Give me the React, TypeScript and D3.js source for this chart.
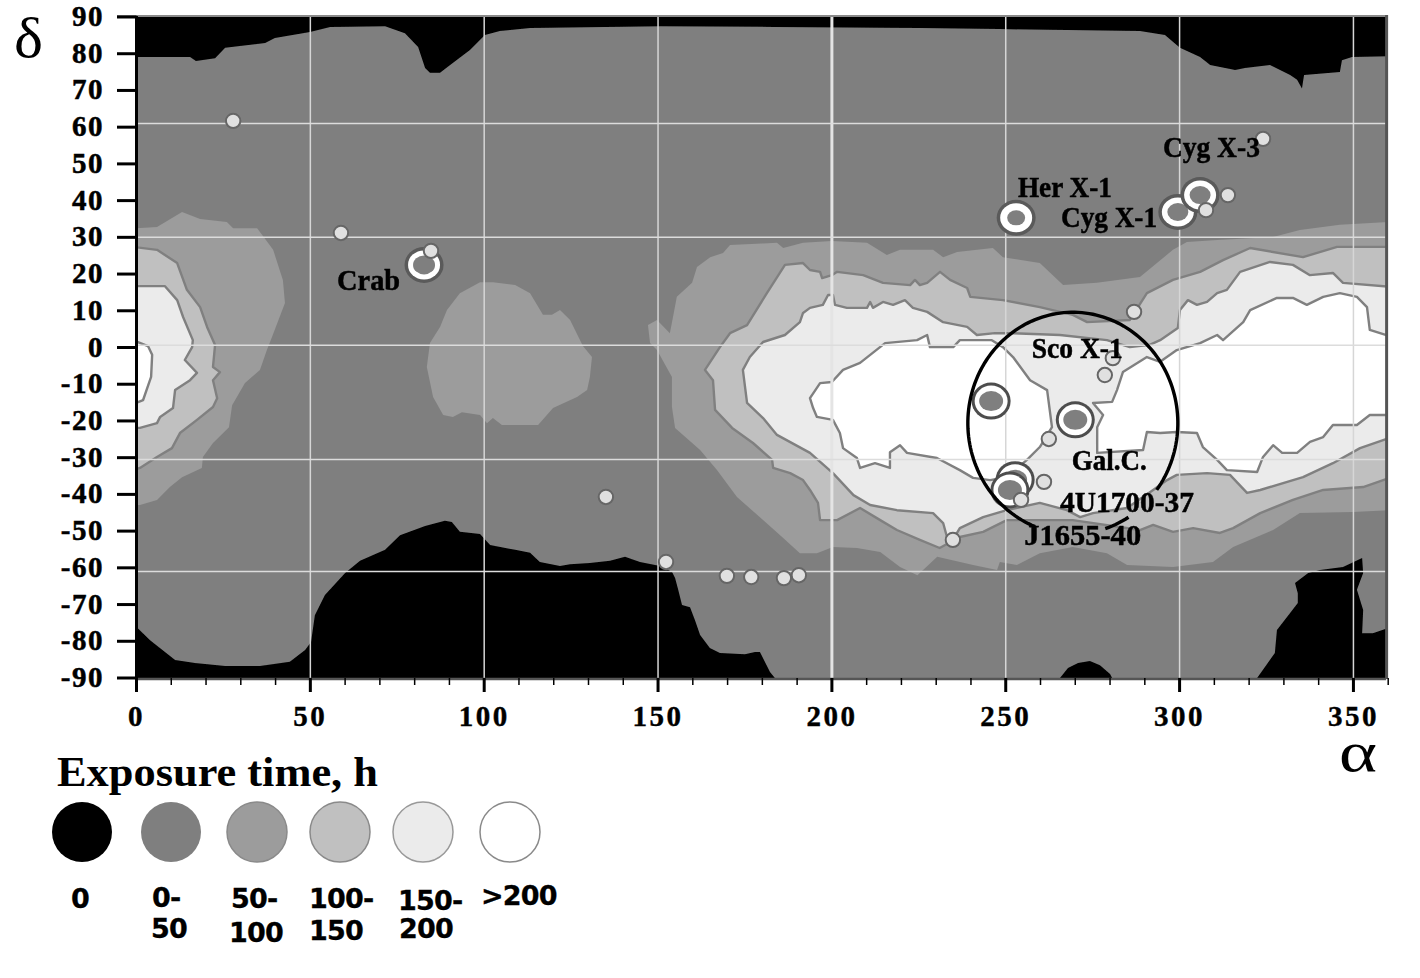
import React from 'react';
import * as d3 from 'd3';

type Pt = [number, number];

// exposure regions, [alpha, delta] in degrees
const blackTop: Pt[] = [[0,90],[0,79.1],[15.4,79.1],[17.1,78],[22.6,78.8],[25.5,81.6],[37,82.9],[39.8,84.3],[49.9,85.9],[55.7,87.3],[71.5,87.5],[77.2,85.6],[81,81.8],[83,76.1],[84.4,74.8],[87.3,74.8],[90.2,76.9],[95.9,81],[100.2,85.1],[104.5,86.2],[113.2,87],[150.6,87.5],[183.6,87.3],[225.3,87],[248.3,86.7],[288.6,86.2],[295.8,85.1],[300.1,81.6],[305.9,79.1],[308.8,76.9],[316,75.6],[318.8,76.1],[326,76.9],[331.8,74.2],[333.8,72.9],[335.2,70.5],[335.8,74.2],[346.1,75],[346.7,78.2],[349.6,79.1],[360,79.3],[360,90]];
const blackBottomLeft: Pt[] = [[0,-90],[0,-76.1],[3.9,-79.7],[11.1,-85.1],[16.8,-85.9],[25.5,-86.7],[35.5,-86.7],[44.1,-85.6],[48.5,-82.4],[50.2,-80.2],[51.3,-72.9],[54.2,-67.4],[60,-61.4],[64.3,-58.1],[71.5,-55.1],[75.8,-51.1],[83,-48.6],[88.7,-47.2],[90.7,-47.5],[93,-50.2],[98.8,-50.8],[101.7,-53.8],[108.9,-55.1],[113.2,-55.9],[116,-58.4],[121.8,-59.5],[124.7,-59],[130.4,-58.7],[136.2,-58.1],[140.5,-57],[144.8,-58.4],[150.6,-59.5],[154,-61.1],[154.9,-62.8],[155.8,-66],[156.9,-70.1],[159.2,-70.7],[160.6,-74.2],[162.1,-78.3],[164.9,-81.8],[167.8,-83.2],[175,-83.5],[177.9,-82.9],[179.3,-82.9],[182.2,-88.4],[183.6,-90]];
const blackBottomMid: Pt[] = [[265.6,-90],[267.9,-87.3],[270.8,-85.9],[274.2,-85.4],[277.1,-86.5],[280,-88.9],[280.6,-90]];
const blackBottomRight: Pt[] = [[322.3,-90],[327.4,-83.2],[328,-76.9],[330.9,-73.4],[334,-69.6],[334,-66.9],[333.2,-64.1],[337,-61.4],[340.4,-60.6],[347,-59.8],[352.5,-57.3],[352.8,-61.4],[351,-66],[352.8,-71.5],[352.5,-77.8],[355.6,-77.8],[360,-76.4],[360,-90]];

const band50Left: Pt[] = [[0,32.5],[5.9,32.8],[13.1,36.9],[18.3,35],[26,34.2],[27.8,32.5],[34.7,32.5],[39.3,26.6],[42.1,18.4],[42.7,12.1],[39,2.9],[37.5,-0.7],[35.5,-6.1],[31.2,-9.7],[27.5,-15.7],[26.6,-21.7],[22,-26],[19.1,-29.8],[18.8,-32.8],[13.1,-35.3],[9.6,-38],[5.9,-41.5],[1,-42.9],[0,-42.9]];
const band50Middle: Pt[] = [[98.8,17.8],[93,14.8],[89.3,10.2],[87.3,5.6],[84.4,1.2],[83.5,-5.3],[85.3,-13.5],[88.2,-18.4],[91,-18.9],[93.6,-17.6],[98.8,-18.4],[100.8,-20.6],[102.5,-19.2],[105.1,-21.1],[115.5,-21.1],[119.8,-16.5],[126.7,-13.5],[129.6,-11.6],[130.4,-8],[131,-2.6],[128.4,0.4],[124.7,7.5],[121.8,10.2],[119.5,8.9],[116.9,8.9],[113.2,14.8],[108.9,17],[102.5,17.8]];
const band50Right: Pt[] = [[147.1,6.1],[149.7,7.5],[153.4,3.9],[154.3,8.3],[155.4,13.8],[159.8,17.6],[161.2,21.9],[165,24.6],[168.7,25.7],[170.7,27.9],[184.2,28.5],[186,27.1],[191.7,28.5],[200,29],[210.1,28.5],[215.8,25.2],[219.6,26.6],[229.1,26.6],[232,24.6],[236,26],[246.3,27.1],[249.2,24.6],[259.8,23],[266.5,17],[276.2,17.6],[288.6,19.2],[298.1,26.6],[302.1,28.7],[310.8,29.3],[326.9,30.1],[334.6,32],[346.1,33.4],[360,34.2],[360,-44.3],[349.9,-44.8],[334.6,-45.1],[326.9,-49.7],[315.4,-54.3],[309.6,-58.4],[298.1,-59.8],[284.9,-59.2],[279.1,-56],[269.3,-54.3],[259.8,-56],[253.2,-59.2],[248.3,-58.4],[247.5,-60.6],[240.6,-59.2],[230.3,-57],[224.6,-62],[219.6,-59.8],[213.9,-55.7],[207.2,-54.6],[200.3,-54.3],[195.7,-56],[190.8,-56],[186,-51.9],[180.2,-47],[172.7,-40.7],[167,-33.4],[162.1,-27.9],[154.9,-21.9],[154,-16.2],[154,-8],[149.7,-0.7],[147.7,1.2]];

const band100Left: Pt[] = [[-1,27.4],[5.9,26.6],[11.7,23],[14.5,15.7],[18.3,11],[20.3,5.6],[22.6,0.7],[22,-5.3],[24,-6.7],[22,-8.9],[23.2,-13.8],[22,-16.2],[17.4,-19.7],[12.5,-23.3],[10.2,-27.4],[5.9,-29.8],[1,-32.8],[-1,-33.4]];
const band100Right: Pt[] = [[167.8,0.1],[170.7,3.9],[175.6,6.1],[181.3,14.8],[186.5,22.5],[191.7,23],[193.7,21.1],[196.6,20.6],[197.2,18.9],[200,19.7],[201.5,20.6],[209,19.7],[214.7,17.6],[222.5,17],[223.9,18.4],[225.3,17],[227.4,17.6],[231.1,20.6],[234,18.4],[238.9,16.2],[239.8,13.8],[249.2,12.9],[259.8,11],[269.3,8.9],[273.4,6.9],[285.7,7.5],[290.6,14.8],[298.1,18.4],[305.9,20.6],[312.5,23.8],[320.3,27.1],[335.5,24.6],[345.3,27.4],[361,27.4],[361,-35.3],[352.8,-38],[341.3,-38.8],[332.6,-41.5],[323.2,-45.1],[315.4,-49.2],[311.6,-50.5],[303.9,-49.2],[298.1,-50.2],[292.4,-48.3],[288.6,-49.7],[269.3,-47],[259.8,-47],[250.3,-47],[243.5,-50.2],[236.8,-51.6],[231,-54.6],[225.3,-52.4],[218.7,-49.7],[213.9,-47],[208.1,-43.7],[201.5,-47],[196.6,-47],[196,-42.3],[193.7,-38.8],[191.7,-36.1],[188,-34.2],[183.1,-32.8],[182.8,-30.6],[177.3,-26],[171.3,-21.9],[166.4,-17],[165.8,-8.9],[163.5,-6.1]];

const band150Left: Pt[] = [[-1,16.7],[8.2,16.7],[11.7,12.9],[13.4,8.3],[16.2,2],[16,0.1],[13.9,-3.4],[17.4,-6.9],[15.4,-8.9],[11.1,-11.6],[10.5,-16.5],[6.8,-18.9],[5.9,-20.6],[1,-21.9],[-1,-21.9]];
const band150Right: Pt[] = [[180.2,1.5],[186.5,3.4],[190.8,6.9],[191.7,9.4],[193.7,10.8],[197.4,11.6],[198.9,14.3],[200.3,14.3],[200.9,11.6],[204.3,10.8],[210.1,10.8],[211,12.4],[211.8,10.8],[214.7,12.4],[217.6,11.6],[221,12.9],[223.3,10.8],[227.4,9.7],[232,6.9],[238.9,5.6],[241.7,3.4],[246.9,3.9],[252.1,3.9],[265.6,3.4],[279.1,2],[285.7,0.1],[291.4,0.7],[294.4,2],[299.5,5.3],[300.1,10.2],[302.4,12.9],[305,11.6],[307.9,12.4],[310.8,14.8],[313.6,15.7],[317.4,20.6],[326,23.3],[332.6,22.5],[337.5,19.7],[344.1,20.3],[347,17.6],[361,16.5],[361,-24.4],[351.9,-27.4],[344.1,-31.5],[335.5,-35.3],[323.2,-38.8],[319.4,-39.6],[314.5,-34.7],[307.9,-34.2],[299.2,-34.7],[296.4,-36.1],[292.4,-38.8],[284.9,-43.7],[275.1,-45.1],[271.4,-46.2],[267.6,-44.3],[259.8,-42.3],[250.3,-44.3],[243.5,-46.2],[236.8,-49.2],[234.8,-52.4],[233.1,-51.6],[232,-47.8],[229.1,-45.1],[218.7,-44.3],[211,-42.9],[206.2,-40.2],[200.3,-34.2],[193.7,-28.7],[184.2,-23.8],[180.2,-19.2],[175.6,-15.1],[174.4,-6.1],[176.4,-2.6]];

const band200Left: Pt[] = [[-1,2],[3.3,0.4],[4.5,-2],[4.2,-8],[1.9,-14.3],[-1,-15.4]];
const band200Middle: Pt[] = [[193.7,-13.8],[196.6,-9.7],[200,-9.4],[203.2,-6.1],[208.1,-4.2],[215.3,1.2],[224.5,2],[227.4,3.4],[228.2,0.1],[234.9,0.1],[236.8,2],[246,2],[249.2,0.1],[252.1,-2.6],[257,-8.9],[261.9,-11.6],[263.3,-21.7],[259.8,-27.1],[256.1,-30.6],[250.3,-35.3],[245.5,-36.1],[240.6,-35.5],[236.8,-33.4],[230.2,-30.1],[221.6,-28.7],[219.6,-26.6],[216.7,-28.5],[216.7,-32.8],[212.4,-31.5],[208.1,-32.8],[207.2,-30.1],[203.2,-27.4],[202.3,-23.3],[200.3,-19.7],[195.7,-18.9],[194.6,-16.5]];
const band200Right: Pt[] = [[276.3,-28.7],[289.5,-27.9],[290.6,-23],[294.4,-23.3],[299.2,-23],[305,-23.3],[306.7,-27.1],[310.8,-30.6],[313.6,-33.4],[322.3,-33.9],[324,-29.8],[326.9,-26.6],[329.5,-28.7],[333.8,-28.7],[337.5,-25.7],[341.3,-24.4],[344.1,-21.1],[351,-21.1],[354.7,-18.4],[361,-18.4],[361,2.9],[354.7,4.8],[353.9,11],[351,13.8],[346.1,14.8],[341.3,13.8],[336.6,11.6],[332.6,13.5],[328,13.5],[320.3,10.2],[318.3,6.9],[312.5,2],[310.8,3.4],[305.9,1.2],[299.2,-0.7],[294.4,-3.9],[290.6,-2.6],[283.7,-6.7],[282,-11.6],[280.6,-14.8],[275.1,-15.1],[278,-18.4],[276.3,-21.7]];

// sources
const smallSources: Pt[] = [[27.8,61.7],[58.8,31.2],[84.7,26.3],[135,-40.7],[152.3,-58.4],[169.8,-62.2],[176.8,-62.5],[186.2,-62.8],[190.5,-62],[234.8,-52.4],[254.4,-41.5],[261,-36.6],[262.4,-24.9],[278.5,-7.5],[280.8,-2.9],[286.9,9.7],[307.6,37.4],[313.9,41.5],[324,56.8]];
const ringSourcesOnGrey: Pt[] = [[82.7,22.5],[253,35.3],[299.5,36.9],[305.9,41.5]];
const ringInnerRx = [11, 9, 10.5, 10.5];
const ringSourcesOnPale: Pt[] = [[245.8,-14.6],[270,-19.7],[252.7,-36],[251.2,-38.8]];

const sourceNames = ['Crab', 'Her X-1', 'Cyg X-1', 'Cyg X-3', 'Sco X-1', 'Gal.C.', '4U1700-37', 'J1655-40'];
const sourceNameAnchors: Pt[] = [[57.7,15.7],[253.5,41],[265.9,32.8],[295.2,52],[257.5,-2.9],[269,-33.4],[265.6,-44.8],[255.3,-53.8]];
const sourceNameWidths = [63, 94, 96, 97, 91, 75, 134, 117];

const galCentre: Pt = [269.3, -20.6];
const galRadius = 30.2;
const galArcs: Pt[] = [[111, 396.7], [58, 72]];

const xTicks = d3.range(0, 361, 10);
const xTickLabels = [0, 50, 100, 150, 200, 250, 300, 350];
const yTickLabels = d3.range(90, -91, -10);
const gridAlpha = [50, 100, 150, 200, 250, 300, 350];
const gridDelta = [61, 30, 0.6, -30.5, -61];

const legendTitle = 'Exposure time, h';
const legendColors = ['#000000', '#7f7f7f', '#9c9c9c', '#c0c0c0', '#ebebeb', '#ffffff'];
const legendStrokes = ['none', 'none', '#8a8a8a', '#8a8a8a', '#999999', '#8a8a8a'];
const legendLabels = [['0'], ['0-', '50'], ['50-', '100'], ['100-', '150'], ['150-', '200'], ['>200']];
const legendCircleX = [82, 171, 257, 340, 423, 510];
const legendLabelX = [[71], [152, 151], [231, 229], [309, 309], [398, 399], [481]];
const legendLabelY = [[908], [907, 938], [908, 942], [908, 940], [910, 938], [905]];

const serif = '"Liberation Serif", serif';

export default function App() {
  const width = 1420;
  const height = 978;
  const x = d3.scaleLinear().domain([0, 360]).range([136.5, 1388.2]);
  const y = d3.scaleLinear().domain([90, -90]).range([17, 678]);
  const xEnd = x(359.4);

  const area = d3.line<Pt>().x(d => x(d[0])).y(d => y(d[1]));
  const poly = (pts: Pt[]) => area(pts) + 'Z';

  const arcPath = (from: number, to: number) => {
    const pts = d3.range(from, to + 1, 2).map((t): Pt => [
      galCentre[0] + galRadius * Math.cos((t * Math.PI) / 180),
      galCentre[1] - galRadius * Math.sin((t * Math.PI) / 180),
    ]);
    return area(pts) as string;
  };

  const fills = [
    { pts: [blackTop, blackBottomLeft, blackBottomMid, blackBottomRight], fill: '#000000', line: false },
    { pts: [band50Left, band50Middle, band50Right], fill: '#9c9c9c', line: false },
    { pts: [band100Left, band100Right], fill: '#c0c0c0', line: true },
    { pts: [band150Left, band150Right], fill: '#ebebeb', line: true },
    { pts: [band200Left, band200Middle, band200Right], fill: '#ffffff', line: true },
  ];

  return (
    <svg width={width} height={height} style={{ position: 'absolute', left: 0, top: 0, background: '#ffffff' }}>
      <defs>
        <clipPath id="plot">
          <rect x={x(0)} y={y(90)} width={xEnd - x(0)} height={y(-90) - y(90)} />
        </clipPath>
        <filter id="soft" x="-2%" y="-2%" width="104%" height="104%">
          <feGaussianBlur stdDeviation="0.7" />
        </filter>
        <filter id="softText" x="-5%" y="-20%" width="110%" height="140%">
          <feGaussianBlur stdDeviation="0.45" />
        </filter>
      </defs>

      <g clipPath="url(#plot)">
        <g filter="url(#soft)">
          <rect x={x(0)} y={y(90)} width={xEnd - x(0)} height={y(-90) - y(90)} fill="#7f7f7f" />
          {fills.map((group, i) =>
            group.pts.map((pts, j) => (
              <path
                key={`${i}-${j}`}
                d={poly(pts)}
                fill={group.fill}
                stroke={group.line ? '#808080' : 'none'}
                strokeWidth={group.line ? 2.4 : 0}
                strokeLinejoin="round"
              />
            ))
          )}
        </g>

        {gridAlpha.map(a => (
          <line key={a} x1={x(a)} x2={x(a)} y1={y(90)} y2={y(-90)} stroke={a === 200 ? '#e4e4e4' : '#d6d6d6'} strokeWidth={a === 200 ? 3 : 1.5} />
        ))}
        {gridDelta.map(d => (
          <line key={d} x1={x(0)} x2={xEnd} y1={y(d)} y2={y(d)} stroke="#dcdcdc" strokeWidth={1.5} />
        ))}

        <g filter="url(#soft)">
          {ringSourcesOnGrey.map(([a, d], i) => (
            <g key={a}>
              <ellipse cx={x(a)} cy={y(d)} rx={19.5} ry={18} fill="#5a5a5a" />
              <ellipse cx={x(a)} cy={y(d)} rx={16} ry={14.5} fill="#ffffff" />
              <ellipse cx={x(a)} cy={y(d)} rx={ringInnerRx[i]} ry={ringInnerRx[i] - 1.5} fill="#7f7f7f" />
            </g>
          ))}
          {ringSourcesOnPale.map(([a, d]) => (
            <g key={a}>
              <ellipse cx={x(a)} cy={y(d)} rx={19.5} ry={18.5} fill="#4d4d4d" />
              <ellipse cx={x(a)} cy={y(d)} rx={16.5} ry={15.5} fill="#ffffff" />
              <ellipse cx={x(a)} cy={y(d)} rx={12} ry={10} fill="#7f7f7f" />
            </g>
          ))}
          {smallSources.map(([a, d]) => (
            <circle key={a} cx={x(a)} cy={y(d)} r={7.2} fill="#e0e0e0" stroke="#666666" strokeWidth={2} />
          ))}
          {galArcs.map(([from, to]) => (
            <path key={from} d={arcPath(from, to)} fill="none" stroke="#000000" strokeWidth={3.4} />
          ))}
        </g>
      </g>

      {/* frame */}
      <line x1={117} x2={xEnd + 1} y1={16} y2={16} stroke="#8a8a8a" strokeWidth={2} />
      <line x1={xEnd + 0.5} x2={xEnd + 0.5} y1={15} y2={679} stroke="#555555" strokeWidth={3} />
      <line x1={x(0)} x2={xEnd} y1={y(-90) + 1} y2={y(-90) + 1} stroke="#555555" strokeWidth={2.5} />
      <line x1={x(0)} x2={x(0)} y1={16} y2={692} stroke="#000000" strokeWidth={3} />

      {yTickLabels.map(d => (
        <g key={d}>
          <line x1={117} x2={x(0)} y1={y(d)} y2={y(d)} stroke="#000000" strokeWidth={3} />
          <text x={104} y={y(d) + 9} textAnchor="end" fontFamily={serif} fontWeight="bold" fontSize={29} letterSpacing={1.5} stroke="#000000" strokeWidth={0.5} fill="#000000">{d}</text>
        </g>
      ))}
      {xTicks.map(a => {
        const major = a % 50 === 0;
        return <line key={a} x1={x(a)} x2={x(a)} y1={678} y2={major ? 692 : 685} stroke="#000000" strokeWidth={major ? 3 : 1.5} />;
      })}
      {xTickLabels.map(a => (
        <text key={a} x={x(a)} y={726} textAnchor="middle" fontFamily={serif} fontWeight="bold" fontSize={29} letterSpacing={2.5} stroke="#000000" strokeWidth={0.4} fill="#000000">{a}</text>
      ))}

      <text x={14} y={57} textLength={29} lengthAdjust="spacingAndGlyphs" fontFamily={serif} fontSize={58} fill="#000000">δ</text>
      <text x={1339} y={771} textLength={38} lengthAdjust="spacingAndGlyphs" fontFamily={serif} fontSize={58} fill="#000000">α</text>

      <g filter="url(#softText)">
        {sourceNames.map((name, i) => (
          <text
            key={name}
            x={x(sourceNameAnchors[i][0])}
            y={y(sourceNameAnchors[i][1])}
            textLength={sourceNameWidths[i]}
            lengthAdjust="spacingAndGlyphs"
            fontFamily={serif}
            fontWeight="bold"
            fontSize={29}
            stroke="#000000"
            strokeWidth={0.5}
            fill="#000000"
          >
            {name}
          </text>
        ))}
      </g>

      <text x={57} y={786} textLength={321} lengthAdjust="spacingAndGlyphs" fontFamily={serif} fontWeight="bold" fontSize={42} fill="#000000">{legendTitle}</text>
      {legendColors.map((c, i) => (
        <circle key={i} cx={legendCircleX[i]} cy={832} r={30} fill={c} stroke={legendStrokes[i]} strokeWidth={1.5} />
      ))}
      {legendLabels.map((lines, i) =>
        lines.map((line, j) => (
          <text key={line} x={legendLabelX[i][j]} y={legendLabelY[i][j]} fontFamily='"DejaVu Sans", sans-serif' fontWeight="bold" fontSize={27} letterSpacing={-0.8} stroke="#000000" strokeWidth={0.3} fill="#000000">{line}</text>
        ))
      )}
    </svg>
  );
}
